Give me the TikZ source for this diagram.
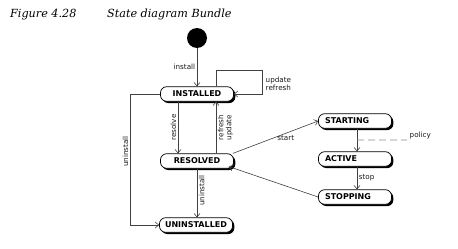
\documentclass[tikz,border=0pt]{standalone}
\usepackage{fontspec}
\setsansfont{DejaVu Sans}
\newfontfamily\titlefont{DejaVu Serif}
\usetikzlibrary{arrows.meta,shadows,calc}
\begin{document}
\begin{tikzpicture}[x=1pt,y=-1pt,
  state/.style={draw=black,line width=0.7pt,fill=white,rounded corners=6pt,
    minimum width=73pt,minimum height=14.5pt,inner sep=1pt,
    font=\sffamily\bfseries\fontsize{8}{9}\selectfont,
    drop shadow={shadow xshift=1.8pt,shadow yshift=-1.8pt,fill=black,opacity=1}},
  rstate/.style={state,text width=60pt,align=left},
  arr/.style={draw=black!75,line width=0.6pt,-{Straight Barb[length=3.5pt,width=6pt]}},
  lbl/.style={font=\sffamily\fontsize{7.2}{8.2}\selectfont,inner sep=1.5pt,text=black!90},
  title/.style={font=\titlefont\itshape\fontsize{11.2}{13}\selectfont,inner sep=0pt,anchor=base west}]
\useasboundingbox (0,0) rectangle (458,249);
\node[title] (fig) at (10,17) {Figure 4.28};
\node[title] (ttl) at (107,17) {State diagram Bundle};
\node[circle,fill=black,minimum size=20pt,inner sep=0pt] (init) at (197,38) {};
\node[state] (inst) at (197,94) {INSTALLED};
\node[state] (res) at (197,161) {RESOLVED};
\node[state] (unin) at (196,225) {UNINSTALLED};
\node[rstate] (sta) at (355,121) {STARTING};
\node[rstate] (act) at (355,159) {ACTIVE};
\node[rstate] (stp) at (355,197) {STOPPING};
\coordinate (lp) at (262,70);
\coordinate (ul) at (130,94);
\coordinate (pm) at ($(sta.south)!0.5!(act.north)$);
\coordinate (pol) at (407,140);
\draw[arr] (init) -- node[lbl,left] {install} (inst);
\draw[arr] ([xshift=19pt]inst.north) |- (lp) |- (inst.east);
\node[lbl,anchor=west,align=left] (ur) at (264,84) {update\\refresh};
\draw[arr] ([xshift=-19pt]inst.south) -- node[lbl,rotate=90,above] {resolve} ([xshift=-19pt]res.north);
\draw[arr] ([xshift=19pt]res.north) -- node[lbl,rotate=90,below,align=center] {refresh\\update} ([xshift=19pt]inst.south);
\draw[arr] (inst.west) -- (ul) |- node[lbl,rotate=90,above,pos=0.22] {uninstall} (unin.west);
\draw[arr] (res.south) -- node[lbl,rotate=90,below,pos=0.45] {uninstall} ([xshift=1pt]unin.north);
\draw[arr] ([xshift=-1pt]res.north east) -- node[lbl,below,pos=0.62] {start} (sta.west);
\draw[arr] ([xshift=2pt]sta.south) -- ([xshift=2pt]act.north);
\draw[black!45,line width=0.6pt,dash pattern=on 7pt off 4pt] ([xshift=2pt]pm) -- (pol);
\node[lbl,anchor=south west] (pl) at ([xshift=1pt,yshift=-1pt]pol) {policy};
\draw[arr] ([xshift=2pt]act.south) -- node[lbl,right] {stop} ([xshift=2pt]stp.north);
\draw[arr] (stp.west) -- ([xshift=-5pt,yshift=2pt]res.south east);
\end{tikzpicture}
\end{document}
